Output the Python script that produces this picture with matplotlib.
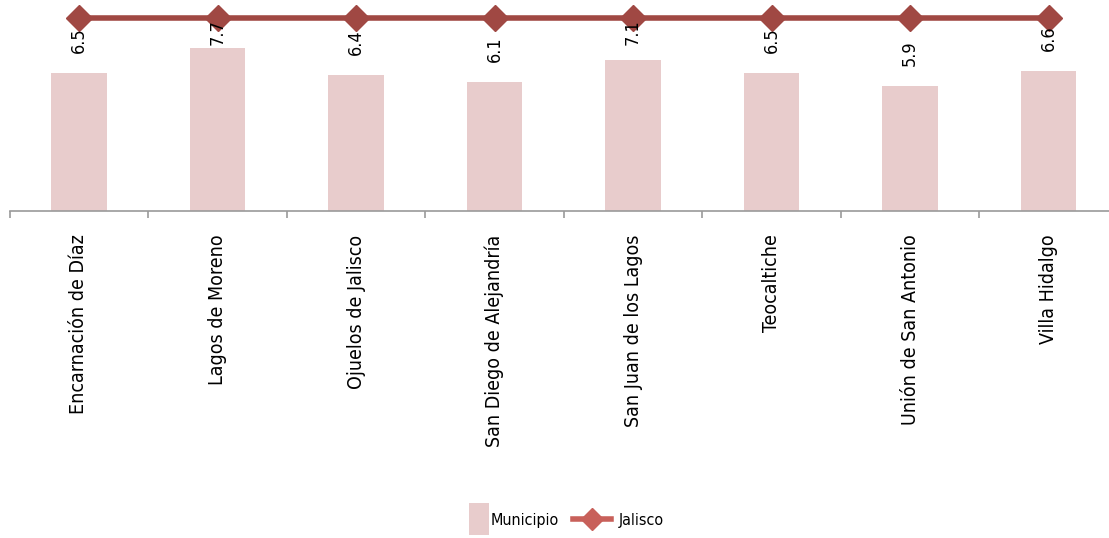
import matplotlib
matplotlib.use("Agg")
import matplotlib.pyplot as plt
from matplotlib.lines import Line2D
from matplotlib.patches import Patch
from matplotlib.legend_handler import HandlerPatch
import matplotlib.patches as mpatches
import numpy as np

categories = ["Encarnación de Díaz", "Lagos de Moreno", "Ojuelos de Jalisco",
              "San Diego de Alejandría", "San Juan de los Lagos", "Teocaltiche",
              "Unión de San Antonio", "Villa Hidalgo"]
municipio = [6.5, 7.7, 6.4, 6.1, 7.1, 6.5, 5.9, 6.6]
jalisco = [9.1] * 8

bar_color = "#E8CCCC"
line_color = "#A04843"
legend_line_color = "#C8605A"

fig = plt.figure(figsize=(11.09, 5.38), dpi=100)
ax = fig.add_axes([9.7 / 1109, (538 - 211) / 538, 1108.3 / 1109, 212 / 538])

x = np.arange(len(categories))
ax.bar(x, municipio, width=0.4, color=bar_color, zorder=2)
ax.plot(x, jalisco, color=line_color, lw=4, marker="D", markersize=13,
        markerfacecolor=line_color, markeredgecolor=line_color, zorder=3, clip_on=False)

ax.set_xlim(-0.5, len(categories) - 0.5)
ax.set_ylim(0, 10)

cond = dict(family="DejaVu Sans", stretch="condensed")
top_limit = 9.05
label_h = 1.2
for xi, v in zip(x, municipio):
    yb = v + 0.94
    if yb + label_h > top_limit:
        ax.text(xi, top_limit, f"{v}", rotation=90, ha="center", va="top",
                fontsize=13, zorder=4, **cond)
    else:
        ax.text(xi, yb, f"{v}", rotation=90, ha="center", va="bottom",
                fontsize=13, zorder=4, **cond)

for s in ["left", "right", "top"]:
    ax.spines[s].set_visible(False)
ax.spines["bottom"].set_color("#9A9A9A")
ax.spines["bottom"].set_linewidth(1.2)
ax.set_yticks([])
ax.set_xticks(x)
ax.set_xticklabels(categories, rotation=90, fontsize=14, **cond)
ax.tick_params(axis="x", which="major", length=0, pad=17)
ax.set_xticks(np.arange(len(categories) + 1) - 0.5, minor=True)
ax.tick_params(axis="x", which="minor", length=5, width=1.2, color="#9A9A9A")


class TallPatch(HandlerPatch):
    def create_artists(self, legend, orig_handle, xdescent, ydescent, width, height, fontsize, trans):
        cy = -ydescent + height / 2
        p = mpatches.Rectangle((-xdescent + width - 11, cy - 11.5), 15, 23,
                               facecolor=bar_color, edgecolor="none", transform=trans)
        return [p]


handles = [Patch(facecolor=bar_color, edgecolor="none"),
           Line2D([], [], color=legend_line_color, lw=4, marker="D", markersize=11)]
fig.legend(handles, ["Municipio", "Jalisco"], loc="center", bbox_to_anchor=(0.500, 1 - 520 / 538),
           ncol=2, frameon=False, prop=dict(size=11.5, **cond),
           handlelength=2.4, handletextpad=0.45, columnspacing=0.85,
           handler_map={Patch: TallPatch()})

fig.savefig("out.png", dpi=100)
